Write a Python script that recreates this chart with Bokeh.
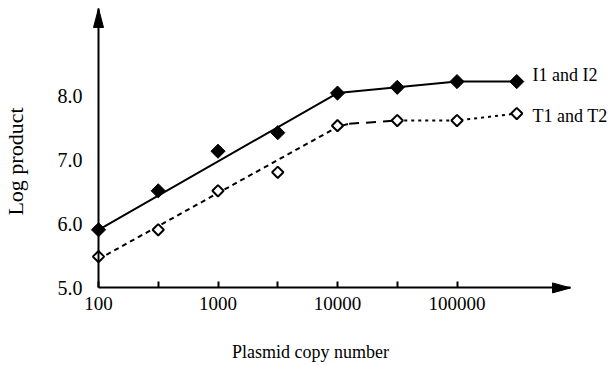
import math
from bokeh.plotting import figure
from bokeh.models import FixedTicker, PrintfTickFormatter, BasicTickFormatter, Label
from bokeh.embed import file_html
from bokeh.resources import INLINE

# ---- data ----
copy_number = [100, 316, 1000, 3162, 10000, 31623, 100000, 316228]
i_values = [5.91, 6.52, 7.14, 7.43, 8.05, 8.14, 8.23, 8.23]
t_values = [5.49, 5.91, 6.52, 6.81, 7.54, 7.62, 7.62, 7.73]

# fitted / trend lines
i_fit_x = [100, 10000, 31623, 100000, 316228]
i_fit_y = [5.91, 8.05, 8.14, 8.23, 8.23]
t_fit1_x = [100, 10000, 12500]
t_fit1_y = [5.45, 7.52, 7.57]
t_fit2_x = [12500, 31623]
t_fit2_y = [7.57, 7.62]
t_fit3_x = [31623, 100000, 316228]
t_fit3_y = [7.62, 7.62, 7.73]

x_major = [100, 1000, 10000, 100000]
x_minor = [316.2, 3162, 31623]
y_ticks = [5, 6, 7, 8]

series_names = ["I1 and I2", "T1 and T2"]
x_title = "Plasmid copy number"
y_title = "Log product"

# ---- layout (frame covers the whole canvas; axes drawn at fixed locations) ----
W, H = 614, 365
AX_X, AX_Y = 98, 287.4        # canvas position of the axes corner
PX_DEC = 119.5                # pixels per decade
PX_UNIT = 63.87               # pixels per log-product unit
X_ORIGIN, Y_ORIGIN = 100, 5.0
X_TIP = 10 ** 5.95
Y_TIP = 9.375

LX0 = math.log10(X_ORIGIN) - AX_X / PX_DEC
LX1 = math.log10(X_ORIGIN) + (W - AX_X) / PX_DEC
Y0 = Y_ORIGIN - (H - AX_Y) / PX_UNIT
Y1 = Y_ORIGIN + AX_Y / PX_UNIT

FONT = "Liberation Serif"

p = figure(width=W, height=H, x_axis_type="log",
           x_range=(10 ** LX0, 10 ** LX1), y_range=(Y0, Y1),
           output_backend="svg", toolbar_location=None,
           min_border_left=0, min_border_right=0,
           min_border_top=0, min_border_bottom=0)
p.outline_line_color = None
p.grid.visible = False
p.background_fill_color = "white"

xa = p.xaxis[0]
xa.fixed_location = Y_ORIGIN
xa.bounds = (X_ORIGIN, X_TIP)
xa.ticker = FixedTicker(ticks=x_major, minor_ticks=x_minor)
xa.formatter = BasicTickFormatter(use_scientific=False)
xa.axis_line_width = 2
xa.axis_line_color = "black"
xa.major_tick_in = 6
xa.major_tick_out = 0
xa.minor_tick_in = 6
xa.minor_tick_out = 0
xa.major_tick_line_width = 2
xa.minor_tick_line_width = 2
xa.major_tick_line_color = "black"
xa.minor_tick_line_color = "black"
xa.major_label_text_font = FONT
xa.major_label_text_font_size = "19px"
xa.major_label_text_color = "black"
xa.major_label_standoff = 9

ya = p.yaxis[0]
ya.fixed_location = X_ORIGIN
ya.bounds = (Y_ORIGIN, Y_TIP)
ya.ticker = FixedTicker(ticks=y_ticks, minor_ticks=[])
ya.formatter = PrintfTickFormatter(format="%.1f")
ya.axis_line_width = 2
ya.axis_line_color = "black"
ya.major_tick_in = 0
ya.major_tick_out = 0
ya.minor_tick_in = 0
ya.minor_tick_out = 0
ya.major_label_text_font = FONT
ya.major_label_text_font_size = "20px"
ya.major_label_text_color = "black"
ya.major_label_standoff = 16

# arrowheads
f = 10 ** (5 / PX_DEC)
yb = Y_TIP - 19 / PX_UNIT
p.patch([X_ORIGIN, X_ORIGIN * f, X_ORIGIN / f], [Y_TIP, yb, yb], color="black", line_width=1)
xb = X_TIP / 10 ** (18 / PX_DEC)
dy = 5 / PX_UNIT
p.patch([X_TIP, xb, xb], [Y_ORIGIN, Y_ORIGIN + dy, Y_ORIGIN - dy], color="black", line_width=1)

# lines
p.line(i_fit_x, i_fit_y, line_width=2, color="black")
p.line(t_fit1_x, t_fit1_y, line_width=2, color="black", line_dash="5 4")
p.line(t_fit2_x, t_fit2_y, line_width=2, color="black", line_dash="10 7")
p.line(t_fit3_x, t_fit3_y, line_width=2, color="black", line_dash="3 4")

# markers
p.scatter(copy_number, i_values, marker="square", angle=math.pi / 4, size=10,
          fill_color="black", line_color="black", line_width=1)
p.scatter(copy_number, t_values, marker="square", angle=math.pi / 4, size=8,
          fill_color="white", line_color="black", line_width=2)

def to_x(cx):
    return 10 ** (LX0 + cx / PX_DEC)

def to_y(cy):
    return Y1 - cy / PX_UNIT

p.add_layout(Label(x=to_x(532), y=to_y(74), text=series_names[0],
                   text_font=FONT, text_font_size="18px", text_color="black",
                   text_baseline="middle", text_align="left"))
p.add_layout(Label(x=to_x(532), y=to_y(115), text=series_names[1],
                   text_font=FONT, text_font_size="18px", text_color="black",
                   text_baseline="middle", text_align="left"))
p.add_layout(Label(x=to_x(310), y=to_y(351), text=x_title,
                   text_font=FONT, text_font_size="18px", text_color="black",
                   text_baseline="middle", text_align="center"))
p.add_layout(Label(x=to_x(15), y=to_y(161), text=y_title, angle=math.pi / 2,
                   text_font=FONT, text_font_size="22px", text_color="black",
                   text_baseline="middle", text_align="center"))

open("out.html", "w").write(file_html(p, INLINE))
